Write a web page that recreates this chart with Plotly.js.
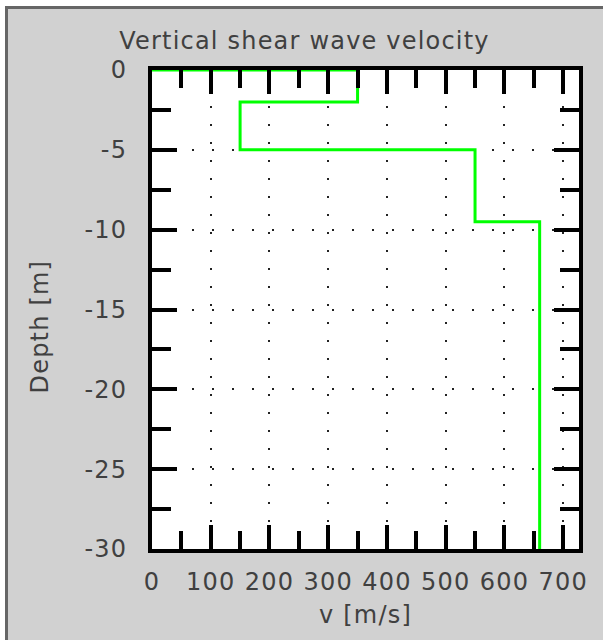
<!DOCTYPE html>
<html>
<head>
<meta charset="utf-8">
<script src="https://cdn.plot.ly/plotly-3.0.1.min.js"></script>
<style>
  html, body { margin: 0; padding: 0; background: #ffffff; width: 603px; height: 640px; overflow: hidden; }
  #frame { position: absolute; left: 5px; top: 6px; right: 0; bottom: 0; background: #d1d1d1;
           border-left: 3px solid #666666; border-top: 3px solid #666666; }
  #chart { position: absolute; left: 0; top: 0; width: 603px; height: 640px; }
  #chart text { letter-spacing: 1.2px; }
</style>
</head>
<body>
<div id="frame"></div>
<div id="chart"></div>
<script>
// Layered shear-wave velocity profile
const layerTop    = [0, -2, -5, -9.5];      // depth of top of each layer [m]
const layerBottom = [-2, -5, -9.5, -30];    // depth of bottom of each layer [m]
const velocity    = [350, 150, 550, 660];   // shear wave velocity [m/s]

const xTicks = [0, 100, 200, 300, 400, 500, 600, 700];
const yTicks = [0, -5, -10, -15, -20, -25, -30];

// Build the step path from the layer arrays
const px = [0];
const py = [layerTop[0]];
for (let i = 0; i < velocity.length; i++) {
  px.push(velocity[i], velocity[i]);
  py.push(layerTop[i], layerBottom[i]);
}

const fontFam = 'DejaVu Sans, Verdana, sans-serif';
const txtCol = '#404040';
const fs = 24;

const trace = {
  x: px, y: py, type: 'scatter', mode: 'lines',
  line: { color: '#00ff00', width: 3 },
  hoverinfo: 'skip', showlegend: false
};

const layout = {
  width: 603, height: 640,
  paper_bgcolor: 'rgba(0,0,0,0)',
  plot_bgcolor: '#ffffff',
  margin: { l: 152, r: 24, t: 70, b: 91 },
  showlegend: false,
  title: {
    text: 'Vertical shear wave velocity',
    font: { family: fontFam, size: fs, color: txtCol },
    x: 0.505, xanchor: 'center', y: 0.937, yanchor: 'middle'
  },
  xaxis: {
    range: [0, 727], autorange: false,
    tickmode: 'array', tickvals: xTicks, ticktext: xTicks.map(String),
    ticks: 'inside', ticklen: 24, tickwidth: 4, tickcolor: '#000000',
    minor: { dtick: 50, tick0: 0, ticks: 'inside', ticklen: 18, tickwidth: 4, tickcolor: '#000000', showgrid: false },
    showline: true, linewidth: 4, linecolor: '#000000', mirror: 'allticks',
    showgrid: true, gridcolor: '#222222', gridwidth: 2, griddash: '2px,16px',
    zeroline: false,
    tickfont: { family: fontFam, size: fs, color: txtCol },
    ticklabelstandoff: 8,
    title: { text: 'v [m/s]', font: { family: fontFam, size: fs, color: txtCol }, standoff: 12 }
  },
  yaxis: {
    range: [-30, 0], autorange: false,
    tickmode: 'array', tickvals: yTicks, ticktext: yTicks.map(String),
    ticks: 'inside', ticklen: 25, tickwidth: 4, tickcolor: '#000000',
    minor: { dtick: 2.5, tick0: 0, ticks: 'inside', ticklen: 19, tickwidth: 4, tickcolor: '#000000', showgrid: false },
    showline: true, linewidth: 4, linecolor: '#000000', mirror: 'allticks',
    showgrid: true, gridcolor: '#222222', gridwidth: 2, griddash: '2px,18px',
    zeroline: false,
    tickfont: { family: fontFam, size: fs, color: txtCol },
    ticklabelstandoff: 16
  },
  annotations: [{
    text: 'Depth [m]', textangle: -90, showarrow: false,
    xref: 'paper', yref: 'paper', x: -0.262, y: 0.4635,
    xanchor: 'center', yanchor: 'middle',
    font: { family: fontFam, size: fs, color: txtCol }
  }]
};

Plotly.newPlot('chart', [trace], layout, { displayModeBar: false, staticPlot: true });
</script>
</body>
</html>
